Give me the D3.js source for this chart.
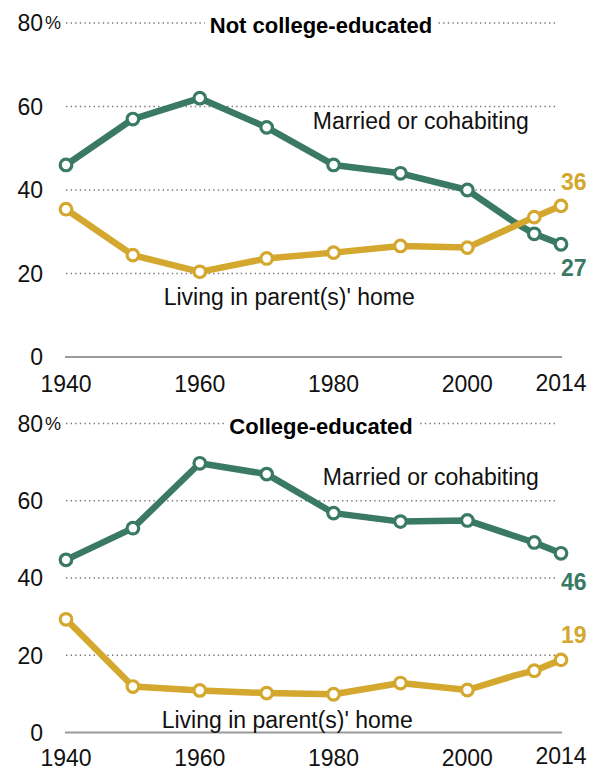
<!DOCTYPE html>
<html>
<head>
<meta charset="utf-8">
<script src="https://cdn.jsdelivr.net/npm/d3@7"></script>
<style>
  body { margin: 0; background: #fff; }
  text { font-family: "Liberation Sans", Arial, sans-serif; }
</style>
</head>
<body>
<svg id="canvas"></svg>
<script>
// years sampled; 2007 has no marker, it only shows as a bend in some lines
const years = [1940, 1950, 1960, 1970, 1980, 1990, 2000, 2007, 2010, 2014];
const markerYears = [1940, 1950, 1960, 1970, 1980, 1990, 2000, 2010, 2014];
const xTicks = [1940, 1960, 1980, 2000, 2014];
const yTicks = [0, 20, 40, 60, 80];

// not college-educated
const notCollegeMarried = [46, 57, 62, 55, 46, 44, 40, 32.3, 29.5, 27];
const notCollegeParents = [35.4, 24.4, 20.4, 23.6, 25, 26.6, 26.2, null, 33.5, 36.2];
// college-educated
const collegeMarried = [44.7, 52.9, 69.7, 66.9, 56.8, 54.6, 54.9, null, 49.2, 46.4];
const collegeParents = [29.3, 11.9, 10.9, 10.2, 9.9, 12.8, 11, 14.7, 16, 18.8];

const endLabels = [["27", "36"], ["46", "19"]];
const titles = ["Not college-educated", "College-educated"];

const green = "#3a7a64";
const gold = "#d4a72e";

const width = 592, height = 770;
const svg = d3.select("#canvas").attr("width", width).attr("height", height);

const x = d3.scaleLinear().domain([1940, 2014]).range([66, 561]);

const panels = [
  {
    title: titles[0], married: notCollegeMarried, parents: notCollegeParents,
    y: d3.scaleLinear().domain([0, 80]).range([357, 23]),
    labels: endLabels[0],
    marriedLabel: [1976.9, 54.6], parentsLabel: [1954.6, 12.5],
    endOffsets: [32, -16], xLabOffset: 35
  },
  {
    title: titles[1], married: collegeMarried, parents: collegeParents,
    y: d3.scaleLinear().domain([0, 80]).range([732.5, 423.5]),
    labels: endLabels[1],
    marriedLabel: [1978.4, 64.1], parentsLabel: [1954.3, 1.2],
    endOffsets: [37, -17], xLabOffset: 33
  }
];

panels.forEach((p) => {
  const g = svg.append("g");
  const y = p.y;

  // dotted gridlines
  g.selectAll(".grid")
    .data(yTicks.filter((d) => d > 0))
    .enter()
    .append("line")
    .attr("x1", 66)
    .attr("x2", 557)
    .attr("y1", (d) => y(d))
    .attr("y2", (d) => y(d))
    .attr("stroke", "#7a7a7a")
    .attr("stroke-width", 1.4)
    .attr("stroke-dasharray", "1.4,3.2");

  // zero baseline
  g.append("line")
    .attr("x1", 65).attr("x2", 562)
    .attr("y1", y(0)).attr("y2", y(0))
    .attr("stroke", "#9a9a9a")
    .attr("stroke-width", 2);

  // y tick labels
  g.selectAll(".ylab")
    .data(yTicks)
    .enter()
    .append("text")
    .attr("x", 43)
    .attr("y", (d) => y(d))
    .attr("dy", "0.36em")
    .attr("text-anchor", "end")
    .attr("font-size", 23)
    .attr("fill", "#111")
    .text((d) => d);
  g.append("text")
    .attr("x", 45)
    .attr("y", y(80))
    .attr("dy", "0.36em")
    .attr("font-size", 18)
    .attr("fill", "#111")
    .text("%");

  // x tick labels
  g.selectAll(".xlab")
    .data(xTicks)
    .enter()
    .append("text")
    .attr("x", (d) => x(d))
    .attr("y", (d) => y(0) + p.xLabOffset - (d === 2014 ? 1.5 : 0))
    .attr("text-anchor", "middle")
    .attr("font-size", 23)
    .attr("fill", "#111")
    .text((d) => d);

  // title, knocking out the top gridline behind it
  const t = g.append("text")
    .attr("x", 321)
    .attr("y", y(80) + 10)
    .attr("text-anchor", "middle")
    .attr("font-size", 22)
    .attr("font-weight", "bold")
    .attr("fill", "#000")
    .text(p.title);
  const bb = t.node().getBBox();
  g.insert("rect", "text")
    .attr("x", bb.x - 5)
    .attr("y", bb.y)
    .attr("width", bb.width + 10)
    .attr("height", bb.height)
    .attr("fill", "#fff");

  const series = [
    { vals: p.married, color: green, label: p.labels[0], off: p.endOffsets[0] },
    { vals: p.parents, color: gold, label: p.labels[1], off: p.endOffsets[1] }
  ];

  const line = d3.line()
    .x((d) => x(d.year))
    .y((d) => y(d.v));

  series.forEach((s) => {
    const pts = years
      .map((yr, i) => ({ year: yr, v: s.vals[i] }))
      .filter((d) => d.v !== null);

    g.append("path")
      .datum(pts)
      .attr("fill", "none")
      .attr("stroke", s.color)
      .attr("stroke-width", 6.5)
      .attr("stroke-linejoin", "round")
      .attr("d", line);

    g.selectAll(null)
      .data(pts.filter((d) => markerYears.includes(d.year)))
      .enter()
      .append("circle")
      .attr("cx", (d) => x(d.year))
      .attr("cy", (d) => y(d.v))
      .attr("r", 5.8)
      .attr("fill", "#fff")
      .attr("stroke", s.color)
      .attr("stroke-width", 3.2);

    const last = pts[pts.length - 1];
    g.append("text")
      .attr("x", x(2014))
      .attr("y", y(last.v) + s.off)
      .attr("font-size", 23)
      .attr("font-weight", "bold")
      .attr("fill", s.color)
      .text(s.label);
  });

  // series labels
  g.append("text")
    .attr("x", x(p.marriedLabel[0]))
    .attr("y", y(p.marriedLabel[1]))
    .attr("font-size", 23)
    .attr("fill", "#111")
    .text("Married or cohabiting");
  g.append("text")
    .attr("x", x(p.parentsLabel[0]))
    .attr("y", y(p.parentsLabel[1]))
    .attr("font-size", 23)
    .attr("fill", "#111")
    .text("Living in parent(s)' home");
});
</script>
</body>
</html>
